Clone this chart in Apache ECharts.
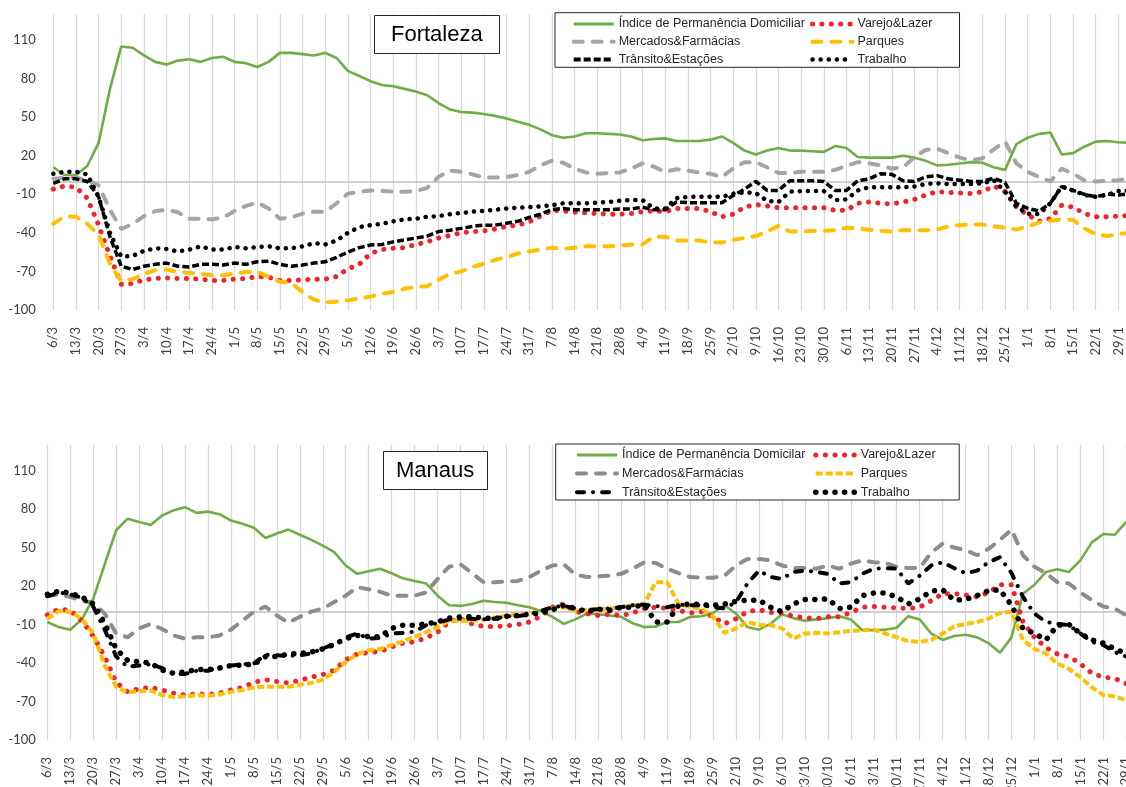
<!DOCTYPE html>
<html>
<head>
<meta charset="utf-8">
<script src="https://cdn.jsdelivr.net/npm/echarts@6/dist/echarts.min.js"></script>
<style>
  html, body { margin: 0; padding: 0; background: #fff; }
  #top { position: absolute; left: 0; top: 0; width: 1126px; height: 400px; }
  #bottom { position: absolute; left: 0; top: 400px; width: 1126px; height: 387px; }
</style>
</head>
<body>
<div id="top"></div>
<div id="bottom"></div>
<script>
// one label per week, the x axis has a point every half week (3.5 days)
const weekLabels = ['6/3', '13/3', '20/3', '27/3', '3/4', '10/4', '17/4', '24/4', '1/5', '8/5',
  '15/5', '22/5', '29/5', '5/6', '12/6', '19/6', '26/6', '3/7', '10/7', '17/7',
  '24/7', '31/7', '7/8', '14/8', '21/8', '28/8', '4/9', '11/9', '18/9', '25/9',
  '2/10', '9/10', '16/10', '23/10', '30/10', '6/11', '13/11', '20/11', '27/11', '4/12',
  '11/12', '18/12', '25/12', '1/1', '8/1', '15/1', '22/1', '29/1'];

// Fortaleza, half-week samples from 6/3
const forHome = [11, 5, 5, 12, 30, 72, 105, 104, 98, 93,
  91, 94, 95, 93, 96, 97, 93, 92, 89, 93,
  100, 100, 99, 98, 100, 96, 86, 82, 78, 75,
  74, 72, 70, 67, 61, 56, 54, 53.5, 52.5, 51,
  49, 46.5, 44, 40.5, 36, 34, 35, 37.5, 37.5, 37,
  36.5, 35, 32, 33, 33.5, 31.5, 31.5, 31.5, 32.5, 35,
  30, 24, 21, 24, 26, 24, 24, 23.5, 23, 27.5,
  26, 19, 18.5, 18.5, 18.5, 20, 18.5, 16, 12.5, 13,
  14, 15, 14.5, 11, 9, 29, 34, 37, 38, 21,
  22, 27, 31, 31.5, 30.5, 30];
const forRetail = [-6, -3.5, -4.5, -13, -34, -58, -80, -79.5, -76.5, -75.5,
  -75, -75.5, -75.5, -76, -77, -77, -76, -75.5, -74, -74.5,
  -77, -77, -76.5, -76, -76, -74, -68, -64.5, -56, -53,
  -52, -51.5, -49, -47, -44, -42, -40, -39, -38.5, -37,
  -35, -34, -31.5, -27, -22.5, -23, -24, -24.5, -25, -25.5,
  -25.5, -25, -23.5, -23, -23.5, -21, -21, -21, -23.5, -27.5,
  -25.5, -20, -18, -19, -20.5, -20.5, -20.5, -20.5, -20.5, -22.5,
  -22.5, -17, -16, -17, -17.5, -16, -14, -10.5, -8, -8.5,
  -9, -9.5, -8, -3.5, -8, -20, -26, -31, -29, -18.5,
  -20, -25, -27.5, -27.5, -27, -26.5];
const forGrocery = [2, 3, 3, 1, -3, -22, -37, -33, -27, -23,
  -22, -24, -29, -29, -29.5, -28, -23, -19, -16.5, -21,
  -29, -28, -25, -23.5, -23.5, -17, -9.5, -8, -7, -7.5,
  -8, -8, -7.5, -5, 3.5, 8.5, 7.5, 5.5, 3, 3,
  3.5, 5, 7.5, 12.5, 16, 14.5, 10, 7, 6, 6.5,
  7, 10, 14, 11.5, 7.5, 9.5, 8.5, 7, 6, 3.5,
  10, 15, 15, 11, 6.5, 6.5, 7.5, 7.5, 7.5, 9,
  12, 15, 14, 12.5, 10, 11, 19, 24.5, 25.5, 22,
  18.5, 16.5, 18, 25, 31, 14, 7.5, 3.5, 0, 10,
  6, 1, 0, 0.5, 1, 2];
const forParks = [-33, -27, -27.5, -33, -41.5, -64, -77.5, -76, -72, -69,
  -68.5, -70.5, -71, -72, -73, -73, -71.5, -70.5, -70.5, -74,
  -78, -79, -86, -92, -94, -93.5, -92.5, -91, -89.5, -87.5,
  -86, -83.5, -82, -81.5, -76.5, -72, -70, -66.5, -64, -61,
  -59, -56, -54.5, -53, -51.5, -52.5, -51.5, -50.5, -50.5, -50.5,
  -50, -49, -49, -43, -43, -46, -46, -46, -47.5, -47.5,
  -45.5, -44, -42.5, -39, -34.5, -39, -39, -38.5, -38.5, -38,
  -36, -36.5, -37.5, -38.5, -39, -38, -38, -38, -37.5, -35,
  -34, -33.5, -33.5, -35, -36, -37.5, -35, -32, -30.5, -29.5,
  -30, -36.5, -41, -42.5, -41, -40];
const forTransit = [-1.5, 2, 2, 0, -12, -43, -66, -68.5, -66, -64.5,
  -63.5, -66, -66.5, -64.5, -64.5, -65, -63.5, -64.5, -62.5, -62,
  -64.5, -66, -65, -63.5, -62.5, -59, -55, -51.5, -49.5, -49,
  -47, -45.5, -44, -42.5, -39, -38, -36.5, -35, -34, -34,
  -32.5, -31, -28, -25.5, -22, -21, -22, -22, -22, -22,
  -21.5, -21.5, -20, -22, -22, -16, -16.5, -16.5, -16.5, -16.5,
  -11, -6, 0, -7, -7, 0.5, 0.5, 0.5, 0, -7,
  -7, 0.5, 2, 6, 5.5, 0.5, 0, 3.5, 4.5, 2,
  1, 0, 0, 2.5, -1, -17, -21, -23, -17, -4,
  -7, -10, -12, -10, -10.5, -9.5];
const forWork = [6, 7.5, 7.5, 5.5, -12, -40, -58.5, -58, -54, -52,
  -52.5, -54.5, -53, -50.5, -53, -53, -51, -52, -51, -50.5,
  -52, -52, -50.5, -48, -49, -46, -40, -35.5, -34, -33,
  -31, -29.5, -29, -27.5, -27, -25.5, -24.5, -23.5, -23, -22,
  -21, -20.5, -20, -19.5, -18.5, -17, -17, -17, -16.5, -16,
  -15, -14.5, -14.5, -21, -21, -13, -12, -12, -12, -12,
  -9.5, -8.5, -9, -15, -16, -8, -7.5, -7.5, -7.5, -14.5,
  -14, -7, -4.5, -4.5, -4.5, -4.5, -4, -2, -1.5, -2,
  -2, -2, -1.5, 1, -8, -19.5, -25, -25.5, -17, -4,
  -7, -10.5, -12, -10.5, -7.5, -7];

// Manaus, half-week samples from 6/3
const manHome = [-8, -12, -14, -6, 10, 37, 63.5, 72.5, 70, 67.5,
  75, 79, 81.5, 77, 78, 76, 71, 68.5, 65.5, 57.5,
  61, 64, 60, 56, 51.5, 46.5, 36, 29.5, 31.5, 33.5,
  30, 26, 24, 22, 12.5, 5, 4.5, 6, 8.5, 7.5,
  7, 5, 3.5, 0.5, -4, -9.5, -6, -1.5, -2, -3,
  -4, -9, -12, -11.5, -8, -8, -4, -3.5, -1, 5,
  -1.5, -12, -14, -9.5, -2, -5, -7, -6, -5, -3.5,
  -6, -14.5, -14.5, -14, -12.5, -3.5, -6, -17, -22, -19,
  -18, -20, -24.5, -32, -20, 14, 21, 31, 33, 31,
  40, 54, 60.5, 60, 70];
const manRetail = [-2.5, 2, 1, -7, -19, -35, -55, -62.5, -60, -59,
  -61, -63.5, -65, -64, -64.5, -63.5, -61, -59, -55, -53,
  -54.5, -55.5, -53.5, -51, -49, -45.5, -37.5, -33, -32, -31,
  -27.5, -24.5, -23.5, -20.5, -16, -8, -5.5, -9.5, -11.5, -11.5,
  -11, -10, -8, -3.5, 3.5, 6, 0, -1.5, -3, -2,
  -3, -1, 2.5, 3.5, 2.5, 1, -1, 0, -4, -9.5,
  -5.5, 0, 1.5, -0.5, -1, -3.5, -4.5, -5.5, -4, -4,
  -0.5, 3.5, 4, 3.5, 3, 2.5, 3.5, 8.5, 14, 14,
  13, 11.5, 15, 21, 21, -8, -20, -28, -33, -35,
  -40.5, -48, -51, -52, -56];
const manGrocery = [12.5, 13.5, 11.5, 8.5, 7, -1.5, -17, -20, -13, -9.5,
  -13.5, -18.5, -21, -20, -20, -18.5, -14, -7, 0, 4,
  -3, -8.5, -4, 0, 2.5, 7.5, 12.5, 19, 17.5, 15.5,
  12.5, 12.5, 12.5, 15, 25.5, 35, 37, 30, 23, 23,
  23.5, 24, 27, 32, 36, 37, 29, 27, 27.5, 28,
  29.5, 33.5, 38.5, 38, 33.5, 30, 27, 26.5, 26.5, 28,
  36, 41, 41, 40, 36, 34, 34, 33.5, 36, 33.5,
  37.5, 40, 38.5, 38, 35, 34, 34, 46, 53, 50,
  48, 44, 49, 56, 64, 44, 35, 30, 23, 22,
  15, 9, 4, 2.5, -3];
const manParks = [-5.5, 0.5, 0, -5.5, -17, -42, -58.5, -63, -62, -61.5,
  -65, -66.5, -66, -65, -65.5, -64.5, -62.5, -61, -59, -58.5,
  -58.5, -58.5, -57, -55.5, -53, -47, -39, -33, -30, -29,
  -26, -23, -19.5, -16, -12, -7, -7, -7, -6, -4.5,
  -3, -2, -1.5, 1, 2.5, 3.5, 1, 1.5, 2, 2.5,
  3.5, 5, 6, 23, 23, 6, 3.5, 2.5, -4, -16.5,
  -13, -8, -10.5, -10.5, -13, -21, -17, -16.5, -17, -16,
  -15, -14.5, -14, -17, -20, -23, -23.5, -22, -17, -11.5,
  -9.5, -8, -5.5, -1, 0, -22, -29, -32.5, -40.5, -44.5,
  -51, -59, -65, -66, -69];
const manTransit = [12, 15, 13.5, 11, 4, -14, -35, -43, -42, -41,
  -44, -48.5, -48.5, -46, -46, -43.5, -42, -41, -40.5, -33.5,
  -34, -34.5, -34, -32.5, -28.5, -25.5, -20, -17, -21, -20.5,
  -17, -16.5, -15.5, -10.5, -9, -6, -5.5, -5.5, -6, -5.5,
  -3.5, -3.5, -2, 0.5, 3.5, 4.5, 2.5, 1, 2, 2.5,
  3.5, 5, 5.5, 4.5, 3.5, 5.5, 5, 5, 3.5, 2.5,
  7.5, 22, 32, 27, 25.5, 31, 32, 31, 29.5, 22,
  23, 29.5, 33.5, 34, 33.5, 22, 28, 36, 38.5, 34,
  30, 32, 38.5, 42.5, 30, 11.5, -1.5, -8, -9.5, -10.5,
  -17, -23.5, -26, -31.5, -35];
const manWork = [13.5, 16, 14.5, 11.5, 6, -9, -29, -38, -39, -40,
  -45.5, -48, -47, -45, -45, -44, -42, -41.5, -41, -35,
  -35, -33, -32.5, -31.5, -29, -25.5, -21, -18.5, -19.5, -19.5,
  -13, -10.5, -10.5, -9.5, -8, -5, -4, -4, -5, -5.5,
  -3.5, -3, -2, -1, 1.5, 5, 2.5, 0, 2, 1,
  3.5, 3.5, 5.5, -8, -8, 5, 6, 5.5, 5, 6,
  8, 9, 9, 3.5, 0, 6, 9.5, 9.5, 10, 2.5,
  3.5, 12.5, 14.5, 14.5, 11.5, 6, 10, 16, 17, 9,
  9.5, 12.5, 16.5, 17, 5, -13, -17, -22, -10.5, -10,
  -17, -22, -24.5, -29, -32.5];

const GREEN = '#70AD47', RED = '#F0222A', YELLOW = '#FFC000', BLACK = '#000000';

function buildOption(p) {
  const cats = [];
  for (let i = 0; i < p.count; i++) {
    cats.push(i % 2 === 0 ? weekLabels[i / 2] : weekLabels[(i - 1) / 2] + ' +3.5');
  }

  const series = p.series.map(function (s) {
    return {
      name: s.name,
      type: 'line',
      data: s.data,
      symbol: 'none',
      showSymbol: false,
      silent: true,
      lineStyle: s.line
    };
  });
  series[0].markLine = {
    silent: true,
    symbol: 'none',
    z: 1,
    label: {show: false},
    lineStyle: {color: '#BFBFBF', width: 1.5, type: 'solid'},
    data: [{yAxis: 0}]
  };

  const legendCommon = {
    orient: 'vertical',
    top: p.legendTop,
    itemGap: p.legendGap,
    itemWidth: 40,
    itemHeight: 14,
    padding: 0,
    selectedMode: false,
    z: 10,
    itemStyle: {opacity: 0},
    textStyle: {fontSize: 12.5, color: '#262626', fontFamily: 'Liberation Sans', lineHeight: 14},
    formatter: function (name) { return name.trim(); }
  };
  const legendData = p.series.map(function (s) {
    return {name: s.name, lineStyle: {width: s.legendWidth}};
  });

  return {
    animation: false,
    backgroundColor: '#fff',
    title: {
      text: p.title,
      left: p.titleLeft,
      top: p.titleTop,
      padding: p.titlePadding,
      borderColor: '#262626',
      borderWidth: 1,
      backgroundColor: '#fff',
      z: 10,
      textStyle: {fontSize: 22, fontWeight: 'normal', color: '#000', fontFamily: 'Liberation Sans', lineHeight: 25}
    },
    legend: [
      Object.assign({}, legendCommon, {left: p.legendLeft[0], data: [legendData[0], legendData[2], legendData[4]]}),
      Object.assign({}, legendCommon, {left: p.legendLeft[1], data: [legendData[1], legendData[3], legendData[5]]})
    ],
    graphic: [{
      type: 'rect',
      z: 8,
      silent: true,
      shape: p.legendBox,
      style: {fill: '#fff', stroke: '#262626', lineWidth: 1}
    }],
    grid: {
      left: p.grid[0], top: p.grid[1], width: p.grid[2], height: p.grid[3],
      outerBoundsMode: 'none'
    },
    xAxis: {
      type: 'category',
      data: cats,
      boundaryGap: false,
      axisLine: {show: false},
      axisTick: {show: false},
      axisLabel: {
        interval: 1, rotate: 90, margin: 17,
        fontSize: 13, color: '#404040', fontFamily: 'Lato'
      },
      splitLine: {show: true, interval: 1, lineStyle: {color: '#D9D9D9', width: 1.3}}
    },
    yAxis: {
      type: 'value',
      min: -100, max: 130, interval: 30,
      axisLine: {show: false},
      axisTick: {show: false},
      splitLine: {show: false},
      axisLabel: {
        showMaxLabel: false, margin: p.yMargin,
        fontSize: 13, color: '#404040', fontFamily: 'Lato'
      }
    },
    series: series
  };
}

const topChart = echarts.init(document.getElementById('top'));
topChart.setOption(buildOption({
  count: forHome.length,
  title: 'Fortaleza', titleLeft: 374, titleTop: 15, titlePadding: [7, 17],
  grid: [53.3, 14.3, 1076.4, 295.7],
  yMargin: 17.5,
  legendLeft: [571.7, 810], legendTop: 17, legendGap: 3.7,
  legendBox: {x: 555, y: 12.7, width: 404.5, height: 54.6},
  series: [
    {name: 'Índice de Permanência Domiciliar', data: forHome, legendWidth: 3,
      line: {color: GREEN, width: 2.6}},
    {name: 'Varejo&Lazer', data: forRetail, legendWidth: 5,
      line: {color: RED, width: 5, type: [0.1, 9.3], cap: 'round'}},
    {name: 'Mercados&Farmácias', data: forGrocery, legendWidth: 4,
      line: {color: '#A5A5A5', width: 4, type: [9, 10], cap: 'round'}},
    {name: 'Parques', data: forParks, legendWidth: 4,
      line: {color: YELLOW, width: 4, type: [9, 10], cap: 'round'}},
    {name: 'Trânsito&Estações', data: forTransit, legendWidth: 4,
      line: {color: BLACK, width: 3.5, type: [7, 3]}},
    {name: 'Trabalho', data: forWork, legendWidth: 4.5,
      line: {color: BLACK, width: 4.5, type: [0.1, 8], cap: 'round'}}
  ]
}));

const bottomChart = echarts.init(document.getElementById('bottom'));
bottomChart.setOption(buildOption({
  count: manHome.length,
  title: 'Manaus', titleLeft: 383, titleTop: 51, titlePadding: [7, 13],
  grid: [47.3, 44.9, 1079, 295.1],
  yMargin: 11.5,
  legendLeft: [575, 813], legendTop: 48, legendGap: 4.6,
  legendBox: {x: 555.7, y: 44, width: 403.5, height: 56},
  series: [
    {name: 'Índice de Permanência Domicilar', data: manHome, legendWidth: 3,
      line: {color: GREEN, width: 2.6}},
    {name: 'Varejo&Lazer ', data: manRetail, legendWidth: 5,
      line: {color: RED, width: 5, type: [0.1, 9.5], cap: 'round'}},
    {name: 'Mercados&Farmácias ', data: manGrocery, legendWidth: 4,
      line: {color: '#8C8C8C', width: 4, type: [9, 10], cap: 'round'}},
    {name: 'Parques ', data: manParks, legendWidth: 4,
      line: {color: YELLOW, width: 4, type: [7, 3]}},
    {name: 'Trânsito&Estações ', data: manTransit, legendWidth: 4,
      line: {color: BLACK, width: 4, type: [7, 9, 0.1, 9], cap: 'round'}},
    {name: 'Trabalho ', data: manWork, legendWidth: 5.5,
      line: {color: BLACK, width: 5.5, type: [0.1, 9.5], cap: 'round'}}
  ]
}));
</script>
</body>
</html>
